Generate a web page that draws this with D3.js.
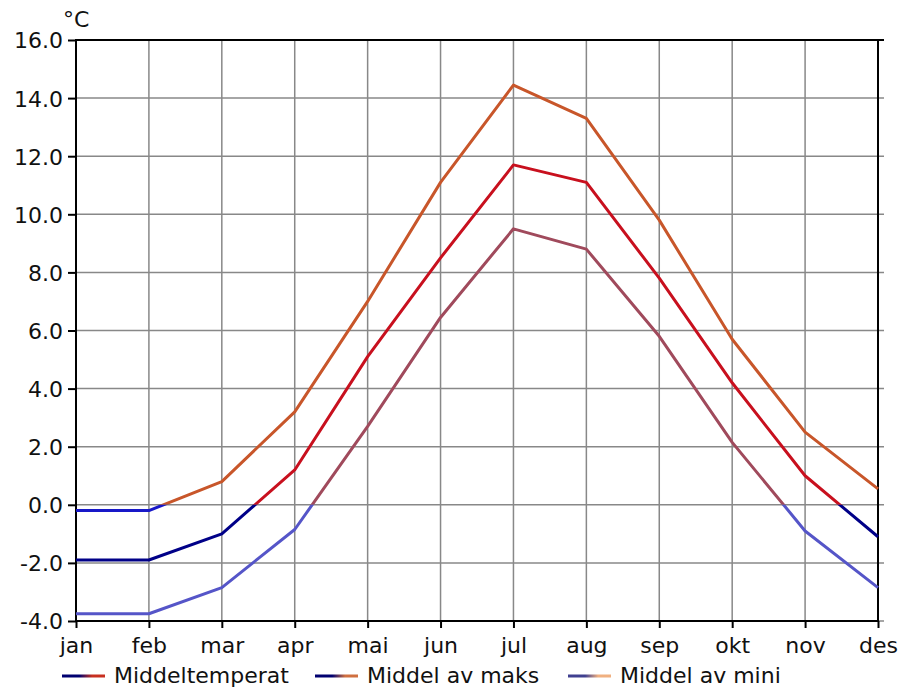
<!DOCTYPE html>
<html>
<head>
<meta charset="utf-8">
<script src="https://cdn.jsdelivr.net/npm/d3@7"></script>
<style>
  body { margin: 0; background: #fff; }
  text { font-family: "DejaVu Sans", sans-serif; }
</style>
</head>
<body>
<script>

// months and series values (deg C)
var months = ["jan", "feb", "mar", "apr", "mai", "jun", "jul", "aug", "sep", "okt", "nov", "des"];
var meanTemp = [-1.9, -1.9, -1.0, 1.2, 5.1, 8.5, 11.7, 11.1, 7.8, 4.2, 1.0, -1.1];
var maxTemp = [-0.2, -0.2, 0.8, 3.2, 7.0, 11.1, 14.45, 13.3, 9.8, 5.7, 2.5, 0.55];
var minTemp = [-3.75, -3.75, -2.85, -0.85, 2.7, 6.45, 9.5, 8.8, 5.8, 2.15, -0.9, -2.85];
var yTicks = [-4, -2, 0, 2, 4, 6, 8, 10, 12, 14, 16];
var seriesNames = ["Middeltemperat", "Middel av maks", "Middel av mini"];

function plot_it() {

    var margin = { top: 40, right: 23, bottom: 71, left: 76 };
    var width = 901 - margin.left - margin.right,
        height = 692 - margin.top - margin.bottom;

    var svg = d3.select("body").append("svg")
        .attr("width", 901)
        .attr("height", 692);

    var g = svg.append("g")
        .attr("transform", "translate(" + margin.left + "," + margin.top + ")");

    // scales
    var x = d3.scalePoint().domain(months).range([0, width]);
    var y = d3.scaleLinear().domain([-4, 16]).range([height, 0]);

    // grid lines
    g.append("g").selectAll("line").data(months).enter().append("line")
        .attr("x1", function (d) { return x(d); })
        .attr("x2", function (d) { return x(d); })
        .attr("y1", 0).attr("y2", height)
        .attr("stroke", "#888").attr("stroke-width", 1.5);

    g.append("g").selectAll("line").data(yTicks).enter().append("line")
        .attr("x1", 0).attr("x2", width + 6)
        .attr("y1", function (d) { return y(d); })
        .attr("y2", function (d) { return y(d); })
        .attr("stroke", "#888").attr("stroke-width", 1.5);

    // axes
    var yAxis = g.append("g")
        .call(d3.axisLeft(y).tickValues(yTicks).tickSize(8).tickPadding(5)
            .tickFormat(function (d) { return d.toFixed(1); }));
    var xAxis = g.append("g").attr("transform", "translate(0," + height + ")")
        .call(d3.axisBottom(x).tickSize(7).tickPadding(7));

    [yAxis, xAxis].forEach(function (a) {
        a.select(".domain").remove();
        a.selectAll(".tick line").attr("stroke", "#000").attr("stroke-width", 2);
        a.selectAll(".tick text").attr("fill", "#111").attr("font-size", "22px")
            .attr("font-family", "DejaVu Sans, sans-serif");
    });
    xAxis.selectAll(".tick text").attr("dy", "0.8em");
    yAxis.selectAll(".tick text").attr("dy", "0.36em");

    // frame
    g.append("rect").attr("x", 0).attr("y", 0).attr("width", width).attr("height", height)
        .attr("fill", "none").attr("stroke", "#000").attr("stroke-width", 2);
    g.append("line").attr("x1", width).attr("x2", width + 6).attr("y1", 0).attr("y2", 0)
        .attr("stroke", "#000").attr("stroke-width", 2);

    // unit label
    svg.append("text").text("°C")
        .attr("x", 63).attr("y", 27).attr("font-size", "22px").attr("fill", "#111");

    // clip areas above and below zero
    var defs = svg.append("defs");
    defs.append("clipPath").attr("id", "above").append("rect")
        .attr("x", -5).attr("y", -5).attr("width", width + 10).attr("height", y(0) + 5);
    defs.append("clipPath").attr("id", "below").append("rect")
        .attr("x", -5).attr("y", y(0)).attr("width", width + 10).attr("height", height - y(0) + 5);

    var series = [
        { name: seriesNames[0], values: meanTemp, hot: "#c8101e", cold: "#000088", legendHot: "#c83020", legendCold: "#000070" },
        { name: seriesNames[1], values: maxTemp, hot: "#c8562a", cold: "#1818c8", legendHot: "#d07040", legendCold: "#000070" },
        { name: seriesNames[2], values: minTemp, hot: "#a04a5c", cold: "#5555c8", legendHot: "#f0b080", legendCold: "#404090" }
    ];

    var lineGenerator = d3.line()
        .x(function (d, i) { return x(months[i]); })
        .y(function (d) { return y(d); });

    series.forEach(function (s) {
        g.append("path").attr("d", lineGenerator(s.values))
            .attr("fill", "none").attr("stroke", s.hot).attr("stroke-width", 3)
            .attr("stroke-linejoin", "round").attr("clip-path", "url(#above)");
        g.append("path").attr("d", lineGenerator(s.values))
            .attr("fill", "none").attr("stroke", s.cold).attr("stroke-width", 3)
            .attr("stroke-linejoin", "round").attr("clip-path", "url(#below)");
    });

    // legend
    var legendX = [62, 315, 568];
    series.forEach(function (s, i) {
        var grad = defs.append("linearGradient").attr("id", "lg" + i)
            .attr("x1", "0%").attr("x2", "100%");
        grad.append("stop").attr("offset", "40%").attr("stop-color", s.legendCold);
        grad.append("stop").attr("offset", "70%").attr("stop-color", s.legendHot);

        svg.append("rect")
            .attr("x", legendX[i]).attr("y", 674.5).attr("width", 43).attr("height", 3)
            .attr("fill", "url(#lg" + i + ")");
        svg.append("text").text(s.name)
            .attr("x", legendX[i] + 52).attr("y", 683)
            .attr("font-size", "22px").attr("fill", "#111");
    });
}

plot_it();
</script>
</body>
</html>
